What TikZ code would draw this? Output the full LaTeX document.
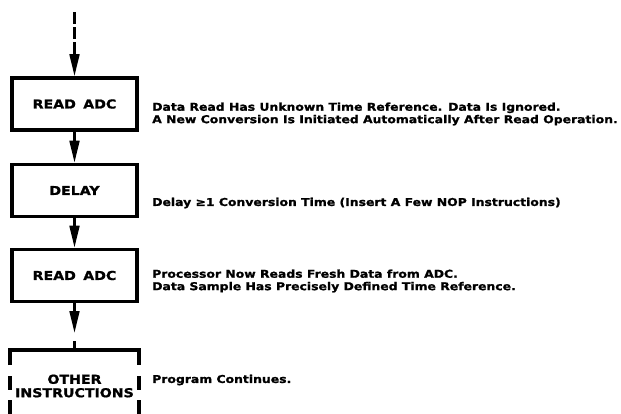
\documentclass[tikz,border=0pt]{standalone}
\usepackage{fontspec}
\setmainfont{DejaVu Sans}
\newfontfamily\heavyfont{DejaVu Sans}[FakeStretch=1.15, FakeBold=1.2]
\usetikzlibrary{arrows.meta, positioning}

\begin{document}
\begin{tikzpicture}[x=0.03cm, y=-0.03cm,
    stepbox/.style={draw, line width=3pt, minimum width=3.75cm, minimum height=1.56cm, inner sep=0pt, align=center, font=\heavyfont\bfseries\fontsize{10.5}{11.5}\selectfont},
    flow/.style={line width=2.3pt, -{Triangle[length=0.66cm, width=0.29cm]}},
    sidedash/.style={line width=3pt, dash pattern=on 0.42cm off 0.3cm},
    note/.style={anchor=west, align=left, inner sep=0pt, font=\heavyfont\bfseries\fontsize{9.2}{10.6}\selectfont}]
\useasboundingbox (0,0) rectangle (621,413);

% flow chart boxes
\node[stepbox] (readA) at (74.5,104) {READ\hspace{0.6em}ADC};
\node[stepbox] (delay) at (74.5,190.5) {DELAY};
\node[stepbox] (readB) at (74.5,275.5) {READ\hspace{0.6em}ADC};
\node[stepbox, draw=none, minimum height=2.04cm] (other) at (74.5,386) {OTHER\\INSTRUCTIONS};
\draw[line width=3pt] (other.north west) ++(0,15) |- (other.north east) -- ++(0,15);
\draw[sidedash] (other.north west) ++(0,26) -- (other.south west);
\draw[sidedash] (other.north east) ++(0,26) -- (other.south east);

% connectors
\coordinate (entry) at (74.5,12);
\coordinate (gapTop) at (74.5,333);
\coordinate (gapBot) at (74.5,341);
\draw[flow, dash pattern=on 0.36cm off 0.09cm] (entry) -- (readA);
\draw[flow] (readA) -- (delay);
\draw[flow] (delay) -- (readB);
\draw[flow] (readB) -- (gapTop);
\draw[line width=2.3pt] (gapBot) -- (other.north);

% remarks
\node[note] (noteA) at (152,114) {Data Read Has Unknown Time Reference. Data Is Ignored.\\A New Conversion Is Initiated Automatically After Read Operation.};
\node[note] (noteB) at (152,203) {Delay ≥1 Conversion Time (Insert A Few NOP Instructions)};
\node[note] (noteC) at (152,281) {Processor Now Reads Fresh Data from ADC.\\Data Sample Has Precisely Defined Time Reference.};
\node[note] (noteD) at (152,380) {Program Continues.};

\end{tikzpicture}
\end{document}
